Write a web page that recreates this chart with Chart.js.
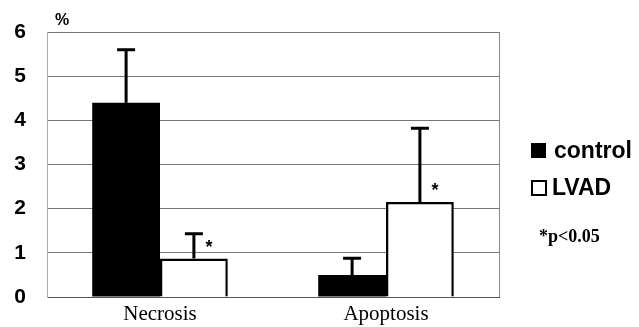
<!DOCTYPE html>
<html>
<head>
<meta charset="utf-8">
<script src="https://cdn.jsdelivr.net/npm/chart.js@4"></script>
<style>
  html, body { margin: 0; padding: 0; background: #fff; }
  #wrap { width: 639px; height: 327px; position: relative; }
</style>
</head>
<body>
<div id="wrap"><canvas id="chart"></canvas></div>
<script>
// values (%)
const categories = ['Necrosis', 'Apoptosis'];
const controlMean = [4.4, 0.5];
const controlSD = [1.2, 0.38];
const lvadMean = [0.87, 2.15];
const lvadSD = [0.56, 1.67];
const lvadSignificant = [true, true];
const yTicks = [0, 1, 2, 3, 4, 5, 6];

// upper-only error bars + significance stars
const errorBars = {
    id: 'errorBars',
    afterDatasetsDraw(chart) {
        const ctx = chart.ctx;
        const y = chart.scales.y;
        const sds = [controlSD, lvadSD];
        ctx.save();
        ctx.strokeStyle = '#000';
        ctx.lineWidth = 3;
        chart.data.datasets.forEach((ds, di) => {
            chart.getDatasetMeta(di).data.forEach((bar, i) => {
                const top = y.getPixelForValue(ds.data[i] + sds[di][i]);
                ctx.beginPath();
                ctx.moveTo(bar.x, bar.y);
                ctx.lineTo(bar.x, top);
                ctx.moveTo(bar.x - 9, top);
                ctx.lineTo(bar.x + 9, top);
                ctx.stroke();
                if (di === 1 && lvadSignificant[i]) {
                    ctx.fillStyle = '#000';
                    ctx.font = 'bold 18px "Liberation Sans"';
                    ctx.textAlign = 'center';
                    ctx.textBaseline = 'middle';
                    ctx.fillText('*', bar.x + 15, bar.y - 11);
                }
            });
        });
        ctx.restore();
    }
};

// frame on the right, "%" unit and the legend box
const extras = {
    id: 'extras',
    afterDraw(chart) {
        const ctx = chart.ctx;
        const a = chart.chartArea;
        ctx.save();
        ctx.strokeStyle = '#888';
        ctx.lineWidth = 1;
        ctx.beginPath();
        ctx.moveTo(a.right + 0.5, a.top);
        ctx.lineTo(a.right + 0.5, a.bottom);
        ctx.stroke();

        ctx.fillStyle = '#000';
        ctx.font = 'bold 16px "Liberation Sans"';
        ctx.textAlign = 'center';
        ctx.textBaseline = 'middle';
        ctx.fillText('%', a.left + 15, a.top - 11);

        const lx = a.right + 32;
        ctx.textAlign = 'left';
        ctx.font = 'bold 23px "Liberation Sans"';
        ctx.fillRect(lx, 143, 15, 15);
        ctx.fillText('control', lx + 23, 152);
        ctx.strokeStyle = '#000';
        ctx.lineWidth = 2;
        ctx.strokeRect(lx + 1, 181, 14, 14);
        ctx.fillText('LVAD', lx + 21, 189);
        ctx.font = 'bold 18px "Liberation Serif"';
        ctx.fillText('*p<0.05', lx + 8, 237);
        ctx.restore();
    }
};

new Chart(document.getElementById('chart'), {
    type: 'bar',
    data: {
        labels: categories,
        datasets: [
            {
                label: 'control',
                data: controlMean,
                backgroundColor: '#000',
                borderColor: '#000',
                borderWidth: 0,
                categoryPercentage: 0.6,
                barPercentage: 1.0
            },
            {
                label: 'LVAD',
                data: lvadMean,
                backgroundColor: '#fff',
                borderColor: '#000',
                borderWidth: 2.5,
                categoryPercentage: 0.6,
                barPercentage: 1.0
            }
        ]
    },
    options: {
        responsive: true,
        maintainAspectRatio: false,
        animation: false,
        layout: {padding: {left: 0, right: 140, top: 32, bottom: 0}},
        plugins: {
            legend: {display: false},
            tooltip: {enabled: false}
        },
        scales: {
            x: {
                grid: {display: false, drawTicks: false},
                border: {display: true, color: '#555', width: 1},
                ticks: {
                    color: '#000',
                    padding: 5,
                    font: {family: '"Liberation Serif"', size: 21}
                },
                afterFit: (s) => { s.height = 30; }
            },
            y: {
                min: 0,
                max: 6,
                afterBuildTicks: (s) => { s.ticks = yTicks.map(v => ({value: v})); },
                grid: {color: '#777', lineWidth: 1, drawTicks: false},
                border: {display: true, color: '#aaa', width: 1},
                ticks: {
                    color: '#000',
                    padding: 21,
                    font: {family: '"Liberation Sans"', size: 21, weight: 'bold'}
                },
                // fixed axis width; drop the label padding so the plot area isn't squeezed
                afterFit: (s) => { s.width = 47; s.paddingTop = 0; s.paddingBottom = 0; }
            }
        }
    },
    plugins: [errorBars, extras]
});
</script>
</body>
</html>
